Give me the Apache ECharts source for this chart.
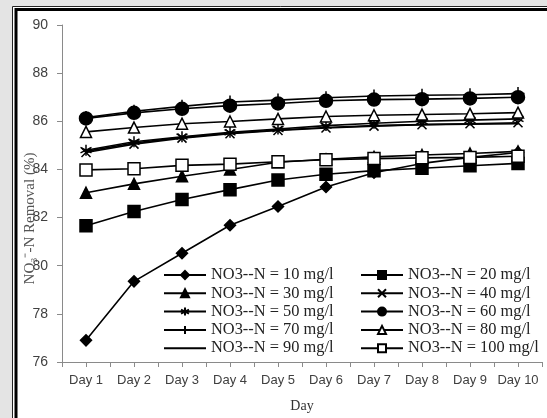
<!DOCTYPE html>
<html>
<head>
<meta charset="utf-8">
<script src="https://cdn.jsdelivr.net/npm/echarts@6/dist/echarts.min.js"></script>
<style>
  html, body { margin: 0; padding: 0; background: #e4e4e4; }
  #chart { width: 547px; height: 418px; }
</style>
</head>
<body>
<div id="chart"></div>
<script>
// categories
const days = ['Day 1', 'Day 2', 'Day 3', 'Day 4', 'Day 5', 'Day 6', 'Day 7', 'Day 8', 'Day 9', 'Day 10'];

// NO3--N removal (%) for each initial concentration
const n10  = [76.9, 79.35, 80.52, 81.68, 82.46, 83.27, 83.86, 84.25, 84.5, 84.7];
const n20  = [81.66, 82.25, 82.75, 83.16, 83.56, 83.8, 83.95, 84.05, 84.15, 84.25];
const n30  = [83.03, 83.4, 83.72, 84.0, 84.3, 84.42, 84.52, 84.6, 84.66, 84.75];
const n40  = [84.7, 85.05, 85.3, 85.48, 85.62, 85.72, 85.8, 85.86, 85.9, 85.94];
const n50  = [84.8, 85.15, 85.36, 85.54, 85.68, 85.82, 85.92, 86.0, 86.05, 86.1];
const n60  = [86.12, 86.35, 86.52, 86.65, 86.74, 86.85, 86.9, 86.92, 86.95, 87.0];
const n70  = [86.16, 86.42, 86.62, 86.8, 86.88, 86.98, 87.05, 87.08, 87.1, 87.15];
const n80  = [85.56, 85.74, 85.9, 85.99, 86.1, 86.2, 86.25, 86.28, 86.31, 86.36];
const n90  = [84.75, 85.1, 85.33, 85.5, 85.64, 85.74, 85.82, 85.86, 85.88, 85.9];
const n100 = [83.98, 84.03, 84.17, 84.22, 84.32, 84.4, 84.45, 84.48, 84.5, 84.55];

const yTicks = [76, 90, 2]; // min, max, step

// marker shapes (Excel style)
const CROSS = 'path://M0,0L10,10M10,0L0,10';
const STAR = 'path://M5,0L5,10M0.7,2.5L9.3,7.5M9.3,2.5L0.7,7.5';
const PLUS = 'path://M5,0L5,10M0,5L10,5';

function mkSeries(name, data, symbol, size, fill) {
  const noMark = symbol === 'none';
  return {
    name: name,
    type: 'line',
    data: data,
    symbol: symbol,
    symbolSize: size,
    showSymbol: !noMark,
    animation: false,
    lineStyle: { color: '#000', width: 1.6 },
    // the 90 mg/l line has no marker, hide the legend fallback circle too
    itemStyle: noMark
      ? { color: 'rgba(0,0,0,0)', borderWidth: 0 }
      : { color: fill || '#000', borderColor: '#000', borderWidth: 1.5 }
  };
}

const seriesList = [
  mkSeries('NO3--N = 10 mg/l', n10, 'diamond', 11),
  mkSeries('NO3--N = 20 mg/l', n20, 'rect', 12),
  mkSeries('NO3--N = 30 mg/l', n30, 'triangle', 11),
  mkSeries('NO3--N = 40 mg/l', n40, CROSS, 9),
  mkSeries('NO3--N = 50 mg/l', n50, STAR, 11),
  mkSeries('NO3--N = 60 mg/l', n60, 'circle', 13),
  mkSeries('NO3--N = 70 mg/l', n70, PLUS, 13),
  mkSeries('NO3--N = 80 mg/l', n80, 'triangle', 11, '#fff'),
  mkSeries('NO3--N = 90 mg/l', n90, 'none', 0),
  mkSeries('NO3--N = 100 mg/l', n100, 'rect', 12, '#fff')
];

const legendText = { fontFamily: 'Liberation Serif', fontSize: 16.4, color: '#222', lineHeight: 18 };

const chart = echarts.init(document.getElementById('chart'));
chart.setOption({
  backgroundColor: '#e4e4e4',
  animation: false,
  graphic: {
    elements: [
      { type: 'rect', z: -10, shape: { x: 12.5, y: 6.5, width: 560, height: 440 },
        style: { fill: '#fff', stroke: '#222', lineWidth: 1 } },
      { type: 'rect', z: -9, shape: { x: 16, y: 9.5, width: 560, height: 440 },
        style: { fill: '#fff', stroke: '#000', lineWidth: 3 } }
    ]
  },
  grid: { left: 62, right: 5, top: 25, bottom: 54, containLabel: false },
  legend: [
    {
      data: seriesList.filter((s, i) => i % 2 === 0).map(s => s.name),
      orient: 'vertical', left: 158, top: 261, itemGap: 0.3,
      itemWidth: 42, itemHeight: 10, textStyle: legendText
    },
    {
      data: seriesList.filter((s, i) => i % 2 === 1).map(s => s.name),
      orient: 'vertical', left: 355, top: 261, itemGap: 0.3,
      itemWidth: 42, itemHeight: 10, textStyle: legendText
    }
  ],
  xAxis: [
    {
      type: 'category', data: days, boundaryGap: true,
      axisLine: { lineStyle: { color: '#8a8a8a', width: 1 } },
      axisTick: { show: true, length: 5, lineStyle: { color: '#8a8a8a' } },
      axisLabel: { interval: 0, fontFamily: 'Liberation Sans', fontSize: 13, color: '#404040', margin: 12 },
      name: 'Day', nameLocation: 'middle', nameGap: 37,
      nameTextStyle: { fontFamily: 'Liberation Serif', fontSize: 14, color: '#333' }
    },
    {
      type: 'category', data: days, boundaryGap: true, position: 'bottom',
      axisLine: { show: false },
      axisTick: { show: true, interval: 0, alignWithLabel: true, length: 5, lineStyle: { color: '#8a8a8a' } },
      axisLabel: { show: false }
    }
  ],
  yAxis: {
    type: 'value', min: yTicks[0], max: yTicks[1], interval: yTicks[2],
    splitLine: { show: false },
    axisLine: { show: true, lineStyle: { color: '#8a8a8a', width: 1 } },
    axisTick: { show: true, length: 5, lineStyle: { color: '#8a8a8a' } },
    axisLabel: { fontFamily: 'Liberation Sans', fontSize: 14, color: '#404040', margin: 14 },
    name: 'NO\u2083\u207B-N Removal (%)', nameLocation: 'middle', nameGap: 24,
    nameMoveOverlap: false,
    nameTextStyle: { fontFamily: 'Liberation Serif', fontSize: 15, color: '#555', padding: [0, 50, 0, 0] }
  },
  series: seriesList
});
</script>
</body>
</html>
